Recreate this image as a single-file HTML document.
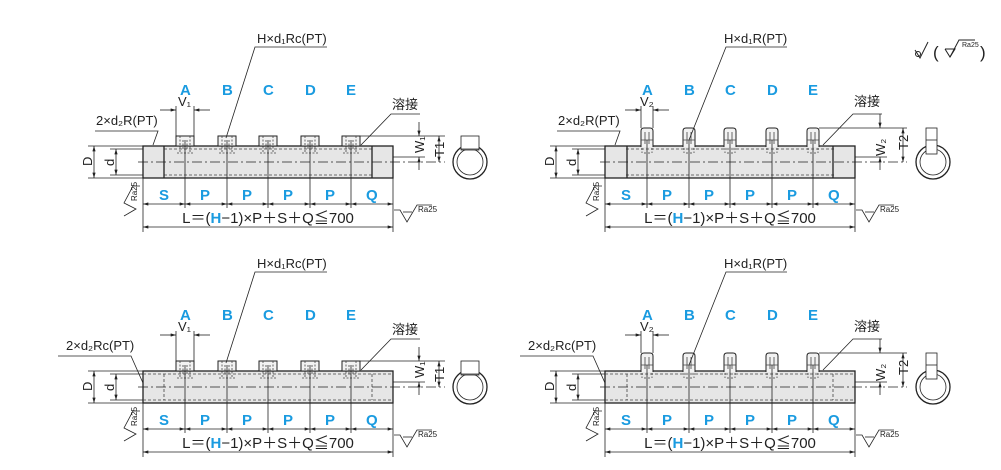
<!DOCTYPE html>
<html><head><meta charset="utf-8"><style>
html,body{margin:0;padding:0;background:#fff;width:1001px;height:470px;overflow:hidden}
svg{display:block}
text{font-family:"Liberation Sans","Noto Sans CJK JP",sans-serif;fill:#222}
.b{fill:#1a9be0;font-weight:bold;font-size:15px}
.t{font-size:13px}
.L{font-size:15px}
</style></head><body>
<svg width="1001" height="470" viewBox="0 0 1001 470" xmlns="http://www.w3.org/2000/svg">
<defs>
<marker id="a" viewBox="0 0 10 6" refX="10" refY="3" markerWidth="7" markerHeight="4" orient="auto-start-reverse"><path d="M0,0L10,3L0,6z" fill="#222"/></marker>
<!-- common dimension geometry for a panel -->
<g id="dims" stroke="#222" stroke-width="0.8" fill="none">
  <!-- centerline -->
  <line x1="138" y1="162" x2="445" y2="162" stroke-dasharray="10,3,2,3"/>
  <!-- column lines -->
  <line x1="143" y1="178" x2="143" y2="232"/><line x1="393" y1="178" x2="393" y2="232"/>
  <line x1="185" y1="140" x2="185" y2="208"/><line x1="227" y1="140" x2="227" y2="208"/>
  <line x1="268" y1="140" x2="268" y2="208"/><line x1="310" y1="140" x2="310" y2="208"/>
  <line x1="351" y1="140" x2="351" y2="208"/>
  <!-- S P Q arrows -->
  <line x1="143" y1="204" x2="185" y2="204" marker-start="url(#a)" marker-end="url(#a)"/>
  <line x1="185" y1="204" x2="227" y2="204" marker-start="url(#a)" marker-end="url(#a)"/>
  <line x1="227" y1="204" x2="268" y2="204" marker-start="url(#a)" marker-end="url(#a)"/>
  <line x1="268" y1="204" x2="310" y2="204" marker-start="url(#a)" marker-end="url(#a)"/>
  <line x1="310" y1="204" x2="351" y2="204" marker-start="url(#a)" marker-end="url(#a)"/>
  <line x1="351" y1="204" x2="393" y2="204" marker-start="url(#a)" marker-end="url(#a)"/>
  <line x1="143" y1="227" x2="393" y2="227" marker-start="url(#a)" marker-end="url(#a)"/>
  <!-- D / d -->
  <line x1="88" y1="146" x2="143" y2="146"/><line x1="88" y1="178" x2="143" y2="178"/>
  <line x1="94" y1="146" x2="94" y2="178" marker-start="url(#a)" marker-end="url(#a)"/>
  <line x1="110" y1="149" x2="143" y2="149"/><line x1="110" y1="175" x2="143" y2="175"/>
  <line x1="116" y1="149" x2="116" y2="175" marker-start="url(#a)" marker-end="url(#a)"/>
  <!-- Ra left -->
  <polyline points="140,186 133,186 124,203 136,209 124,216"/>
  <!-- Ra right -->
  <polyline points="394,210 400,210 407,222 417,205 432,205"/>
  <line x1="403" y1="212" x2="412" y2="212"/>
</g>
<g id="pipe">
  <rect x="143" y="146" width="250" height="32" fill="#e6e6e6" stroke="#222" stroke-width="1.3"/>
  <line x1="164" y1="149" x2="372" y2="149" stroke="#444" stroke-width="0.8" stroke-dasharray="3,2"/>
  <line x1="164" y1="175" x2="372" y2="175" stroke="#444" stroke-width="0.8" stroke-dasharray="3,2"/>
</g>
<g id="portA">
  <rect x="-9" y="136" width="18" height="10" fill="#f2f2f2" stroke="#222" stroke-width="1"/>
  <path d="M-5,136V152M5,136V152M-2,140V150M2,140V150" stroke="#444" stroke-width="0.8" stroke-dasharray="2,1.5" fill="none"/>
  <path d="M-8,153h16" stroke="#444" stroke-width="0.8" stroke-dasharray="2,1.5"/>
</g>
<g id="portB">
  <path d="M-6,147V131Q-6,128 -3,128H3Q6,128 6,131V147" fill="#f2f2f2" stroke="#222" stroke-width="1"/>
  <path d="M-6,140H6M-2,132V144M2,132V144" stroke="#444" stroke-width="0.8" fill="none"/>
  <path d="M-5,148V153M5,148V153M-2,152v3M2,152v3" stroke="#444" stroke-width="0.8" stroke-dasharray="2,1.5"/>
</g>
</defs>

<!-- ============ TOP LEFT ============ -->
<g id="TL">
<use href="#pipe"/>
<line x1="164" y1="146" x2="164" y2="178" stroke="#222" stroke-width="1.3"/>
<line x1="372" y1="146" x2="372" y2="178" stroke="#222" stroke-width="1.3"/>
<use href="#portA" x="185"/><use href="#portA" x="227"/><use href="#portA" x="268"/><use href="#portA" x="310"/><use href="#portA" x="351"/>
<use href="#dims"/>
<g stroke="#222" stroke-width="0.8" fill="none">
 <line x1="176" y1="106" x2="176" y2="136"/><line x1="194" y1="106" x2="194" y2="136"/>
 <line x1="160" y1="110" x2="176" y2="110" marker-end="url(#a)"/><line x1="210" y1="110" x2="194" y2="110" marker-end="url(#a)"/>
 <line x1="359" y1="136" x2="445" y2="136"/><line x1="393" y1="157" x2="425" y2="157"/>
 <line x1="419" y1="122" x2="419" y2="136" marker-end="url(#a)"/><line x1="419" y1="170" x2="419" y2="157" marker-end="url(#a)"/>
 <line x1="439" y1="136" x2="439" y2="162" marker-start="url(#a)" marker-end="url(#a)"/>
 <polyline points="327,47 255,47 226,138"/>
 <polyline points="95,131 158,131 153,145"/>
 <polyline points="420,114 391,114 361,145"/>
 <circle cx="470" cy="162" r="17" stroke-width="1.3"/><circle cx="470" cy="162" r="13"/>
 <rect x="461" y="136" width="18" height="14" fill="#fff"/>
 <line x1="461" y1="149" x2="479" y2="149"/>
</g>
<text class="t" x="257" y="43">H×d₁Rc(PT)</text>
<text class="t" x="96" y="125">2×d₂R(PT)</text>
<text class="t" x="392" y="109">溶接</text>
<text class="t" x="178" y="106">V₁</text>
<text class="b" x="180" y="95">A</text><text class="b" x="222" y="95">B</text><text class="b" x="263" y="95">C</text><text class="b" x="305" y="95">D</text><text class="b" x="346" y="95">E</text>
<text class="b" x="159" y="200">S</text><text class="b" x="200" y="200">P</text><text class="b" x="242" y="200">P</text><text class="b" x="283" y="200">P</text><text class="b" x="325" y="200">P</text><text class="b" x="366" y="200">Q</text>
<text class="L" x="268" y="223" text-anchor="middle">L＝(<tspan style="fill:#1a9be0;font-weight:bold">H</tspan>−1)×P＋S＋Q≦700</text>
<text class="t" transform="translate(92,166) rotate(-90)">D</text>
<text class="t" transform="translate(114,166) rotate(-90)">d</text>
<text class="t" transform="translate(424,153) rotate(-90)">W₁</text>
<text class="t" transform="translate(444,157) rotate(-90)">T1</text>
<text style="font-size:8px" transform="translate(137,201) rotate(-90)">Ra25</text>
<text style="font-size:8px" x="418" y="212">Ra25</text>
</g>

<!-- ============ TOP RIGHT ============ -->
<g id="TR" transform="translate(462,0)">
<use href="#pipe"/>
<line x1="165" y1="146" x2="165" y2="178" stroke="#222" stroke-width="1.3"/>
<line x1="371" y1="146" x2="371" y2="178" stroke="#222" stroke-width="1.3"/>
<use href="#portB" x="185"/><use href="#portB" x="227"/><use href="#portB" x="268"/><use href="#portB" x="310"/><use href="#portB" x="351"/>
<use href="#dims"/>
<g stroke="#222" stroke-width="0.8" fill="none">
 <line x1="179" y1="106" x2="179" y2="128"/><line x1="191" y1="106" x2="191" y2="128"/>
 <line x1="163" y1="110" x2="179" y2="110" marker-end="url(#a)"/><line x1="207" y1="110" x2="191" y2="110" marker-end="url(#a)"/>
 <line x1="357" y1="128" x2="445" y2="128"/><line x1="393" y1="157" x2="425" y2="157"/>
 <line x1="418" y1="114" x2="418" y2="128" marker-end="url(#a)"/><line x1="418" y1="170" x2="418" y2="157" marker-end="url(#a)"/>
 <line x1="441" y1="128" x2="441" y2="162" marker-start="url(#a)" marker-end="url(#a)"/>
 <polyline points="325,47 264,47 227,140"/>
 <polyline points="95,131 158,131 153,145"/>
 <polyline points="420,114 391,114 361,145"/>
 <circle cx="471" cy="162" r="17" stroke-width="1.3"/><circle cx="471" cy="162" r="13"/>
 <rect x="464" y="128" width="11" height="26" fill="#fff"/>
 <line x1="464" y1="140" x2="475" y2="140"/>
</g>
<text class="t" x="262" y="43">H×d₁R(PT)</text>
<text class="t" x="96" y="125">2×d₂R(PT)</text>
<text class="t" x="392" y="106">溶接</text>
<text class="t" x="178" y="106">V₂</text>
<text class="b" x="180" y="95">A</text><text class="b" x="222" y="95">B</text><text class="b" x="263" y="95">C</text><text class="b" x="305" y="95">D</text><text class="b" x="346" y="95">E</text>
<text class="b" x="159" y="200">S</text><text class="b" x="200" y="200">P</text><text class="b" x="242" y="200">P</text><text class="b" x="283" y="200">P</text><text class="b" x="325" y="200">P</text><text class="b" x="366" y="200">Q</text>
<text class="L" x="268" y="223" text-anchor="middle">L＝(<tspan style="fill:#1a9be0;font-weight:bold">H</tspan>−1)×P＋S＋Q≦700</text>
<text class="t" transform="translate(92,166) rotate(-90)">D</text>
<text class="t" transform="translate(114,166) rotate(-90)">d</text>
<text class="t" transform="translate(423,156) rotate(-90)">W₂</text>
<text class="t" transform="translate(446,150) rotate(-90)">T2</text>
<text style="font-size:8px" transform="translate(137,201) rotate(-90)">Ra25</text>
<text style="font-size:8px" x="418" y="212">Ra25</text>
</g>

<!-- legend -->
<g stroke="#222" stroke-width="1" fill="none">
 <circle cx="918" cy="54" r="2.5"/><polyline points="915,50 920,58 928,42"/>
 <polyline points="945,49 950,57 955,49 945,49"/><polyline points="950,57 959,40 975,40"/>
</g>
<text x="933" y="58" style="font-size:17px">(</text>
<text x="962" y="47" style="font-size:7px">Ra25</text>
<text x="980" y="58" style="font-size:17px">)</text>

<!-- ============ BOTTOM LEFT ============ -->
<g id="BL" transform="translate(0,225)">
<rect x="143" y="146" width="250" height="32" fill="#e6e6e6" stroke="#222" stroke-width="1.3"/>
<g stroke="#444" stroke-width="0.8" stroke-dasharray="3,2" fill="none">
 <line x1="143" y1="149" x2="393" y2="149"/><line x1="143" y1="175" x2="393" y2="175"/>
 <line x1="164" y1="149" x2="164" y2="175"/><line x1="372" y1="149" x2="372" y2="175"/>
</g>
<use href="#portA" x="185"/><use href="#portA" x="227"/><use href="#portA" x="268"/><use href="#portA" x="310"/><use href="#portA" x="351"/>
<use href="#dims"/>
<g stroke="#222" stroke-width="0.8" fill="none">
 <line x1="176" y1="106" x2="176" y2="136"/><line x1="194" y1="106" x2="194" y2="136"/>
 <line x1="160" y1="110" x2="176" y2="110" marker-end="url(#a)"/><line x1="210" y1="110" x2="194" y2="110" marker-end="url(#a)"/>
 <line x1="359" y1="136" x2="445" y2="136"/><line x1="393" y1="157" x2="425" y2="157"/>
 <line x1="419" y1="122" x2="419" y2="136" marker-end="url(#a)"/><line x1="419" y1="170" x2="419" y2="157" marker-end="url(#a)"/>
 <line x1="439" y1="136" x2="439" y2="162" marker-start="url(#a)" marker-end="url(#a)"/>
 <polyline points="327,47 255,47 226,138"/>
 <polyline points="58,131 131,131 143,158"/>
 <polyline points="420,114 391,114 361,145"/>
 <circle cx="470" cy="162" r="17" stroke-width="1.3"/><circle cx="470" cy="162" r="13"/>
 <rect x="461" y="136" width="18" height="14" fill="#fff"/>
 <line x1="461" y1="149" x2="479" y2="149"/>
</g>
<text class="t" x="257" y="43">H×d₁Rc(PT)</text>
<text class="t" x="66" y="125">2×d₂Rc(PT)</text>
<text class="t" x="392" y="109">溶接</text>
<text class="t" x="178" y="106">V₁</text>
<text class="b" x="180" y="95">A</text><text class="b" x="222" y="95">B</text><text class="b" x="263" y="95">C</text><text class="b" x="305" y="95">D</text><text class="b" x="346" y="95">E</text>
<text class="b" x="159" y="200">S</text><text class="b" x="200" y="200">P</text><text class="b" x="242" y="200">P</text><text class="b" x="283" y="200">P</text><text class="b" x="325" y="200">P</text><text class="b" x="366" y="200">Q</text>
<text class="L" x="268" y="223" text-anchor="middle">L＝(<tspan style="fill:#1a9be0;font-weight:bold">H</tspan>−1)×P＋S＋Q≦700</text>
<text class="t" transform="translate(92,166) rotate(-90)">D</text>
<text class="t" transform="translate(114,166) rotate(-90)">d</text>
<text class="t" transform="translate(424,153) rotate(-90)">W₁</text>
<text class="t" transform="translate(444,157) rotate(-90)">T1</text>
<text style="font-size:8px" transform="translate(137,201) rotate(-90)">Ra25</text>
<text style="font-size:8px" x="418" y="212">Ra25</text>
</g>

<!-- ============ BOTTOM RIGHT ============ -->
<g id="BR" transform="translate(462,225)">
<rect x="143" y="146" width="250" height="32" fill="#e6e6e6" stroke="#222" stroke-width="1.3"/>
<g stroke="#444" stroke-width="0.8" stroke-dasharray="3,2" fill="none">
 <line x1="143" y1="149" x2="393" y2="149"/><line x1="143" y1="175" x2="393" y2="175"/>
 <line x1="165" y1="149" x2="165" y2="175"/><line x1="371" y1="149" x2="371" y2="175"/>
</g>
<use href="#portB" x="185"/><use href="#portB" x="227"/><use href="#portB" x="268"/><use href="#portB" x="310"/><use href="#portB" x="351"/>
<use href="#dims"/>
<g stroke="#222" stroke-width="0.8" fill="none">
 <line x1="179" y1="106" x2="179" y2="128"/><line x1="191" y1="106" x2="191" y2="128"/>
 <line x1="163" y1="110" x2="179" y2="110" marker-end="url(#a)"/><line x1="207" y1="110" x2="191" y2="110" marker-end="url(#a)"/>
 <line x1="357" y1="128" x2="445" y2="128"/><line x1="393" y1="157" x2="425" y2="157"/>
 <line x1="418" y1="114" x2="418" y2="128" marker-end="url(#a)"/><line x1="418" y1="170" x2="418" y2="157" marker-end="url(#a)"/>
 <line x1="441" y1="128" x2="441" y2="162" marker-start="url(#a)" marker-end="url(#a)"/>
 <polyline points="325,47 264,47 227,140"/>
 <polyline points="58,131 131,131 143,158"/>
 <polyline points="420,114 391,114 361,145"/>
 <circle cx="471" cy="162" r="17" stroke-width="1.3"/><circle cx="471" cy="162" r="13"/>
 <rect x="464" y="128" width="11" height="26" fill="#fff"/>
 <line x1="464" y1="140" x2="475" y2="140"/>
</g>
<text class="t" x="262" y="43">H×d₁R(PT)</text>
<text class="t" x="66" y="125">2×d₂Rc(PT)</text>
<text class="t" x="392" y="106">溶接</text>
<text class="t" x="178" y="106">V₂</text>
<text class="b" x="180" y="95">A</text><text class="b" x="222" y="95">B</text><text class="b" x="263" y="95">C</text><text class="b" x="305" y="95">D</text><text class="b" x="346" y="95">E</text>
<text class="b" x="159" y="200">S</text><text class="b" x="200" y="200">P</text><text class="b" x="242" y="200">P</text><text class="b" x="283" y="200">P</text><text class="b" x="325" y="200">P</text><text class="b" x="366" y="200">Q</text>
<text class="L" x="268" y="223" text-anchor="middle">L＝(<tspan style="fill:#1a9be0;font-weight:bold">H</tspan>−1)×P＋S＋Q≦700</text>
<text class="t" transform="translate(92,166) rotate(-90)">D</text>
<text class="t" transform="translate(114,166) rotate(-90)">d</text>
<text class="t" transform="translate(423,156) rotate(-90)">W₂</text>
<text class="t" transform="translate(446,150) rotate(-90)">T2</text>
<text style="font-size:8px" transform="translate(137,201) rotate(-90)">Ra25</text>
<text style="font-size:8px" x="418" y="212">Ra25</text>
</g>
</svg>
</body></html>
